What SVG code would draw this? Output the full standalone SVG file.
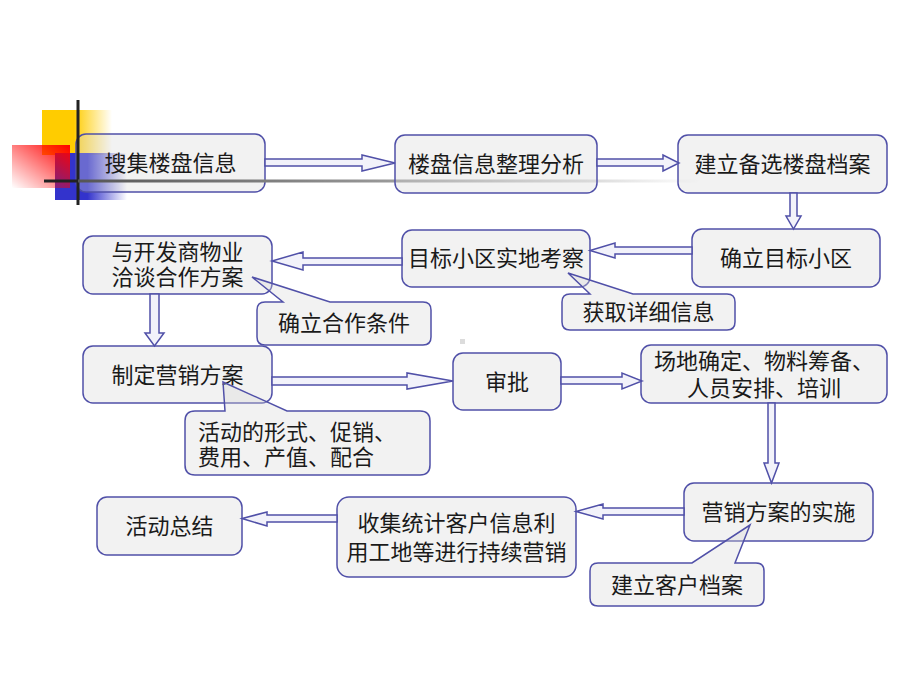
<svg xmlns="http://www.w3.org/2000/svg" width="920" height="690" viewBox="0 0 920 690">
<defs>
<linearGradient id="gY" x1="0" y1="0" x2="1" y2="0"><stop offset="0" stop-color="#ffcc00"/><stop offset="0.45" stop-color="#ffcc00"/><stop offset="1" stop-color="#ffcc00" stop-opacity="0"/></linearGradient>
<linearGradient id="gR" x1="1" y1="0" x2="0" y2="1"><stop offset="0" stop-color="#ff0000"/><stop offset="1" stop-color="#ff0000" stop-opacity="0"/></linearGradient>
<linearGradient id="gB" x1="0" y1="0" x2="1" y2="0"><stop offset="0" stop-color="#3333cc"/><stop offset="0.45" stop-color="#3333cc"/><stop offset="1" stop-color="#3333cc" stop-opacity="0"/></linearGradient>
<linearGradient id="gL" x1="78" y1="0" x2="700" y2="0" gradientUnits="userSpaceOnUse"><stop offset="0" stop-color="#555"/><stop offset="0.5" stop-color="#999"/><stop offset="1" stop-color="#999" stop-opacity="0"/></linearGradient>
</defs>
<style>
.box{fill:#d8d8d8;fill-opacity:0.33;stroke:#5050a8;stroke-width:1.5}
.arr{fill:#f2f2fa;stroke:#5050a8;stroke-width:1.5;stroke-linejoin:miter}
text{font-family:"Liberation Sans","Noto Sans CJK SC",sans-serif;font-size:22px;fill:#1a1a1a}
.c{text-anchor:middle}
</style>
<rect width="920" height="690" fill="#ffffff"/>
<g id="decoration">
<rect x="42" y="110" width="70" height="45" fill="url(#gY)"/>
<rect x="55" y="153" width="72" height="47" fill="url(#gB)"/>
<rect x="12" y="145" width="58" height="43" fill="url(#gR)"/>
<rect x="460" y="339" width="5" height="5" fill="#dcdcdc"/>
</g>
<g id="n1"><rect class="box" x="76" y="134" width="189" height="58" rx="10"/><text class="c" x="170.5" y="171">搜集楼盘信息</text></g>
<g id="decoration-lines">
<line x1="78" y1="100" x2="78" y2="205" stroke="#222" stroke-width="3"/>
<line x1="44" y1="181" x2="78" y2="181" stroke="#222" stroke-width="3"/>
<line x1="78" y1="181" x2="700" y2="181" stroke="url(#gL)" stroke-width="3"/>
</g>
<g id="n2"><rect class="box" x="395" y="135" width="202" height="58" rx="10"/><text class="c" x="496" y="172">楼盘信息整理分析</text></g>
<g id="n3"><rect class="box" x="678" y="135" width="209" height="58" rx="10"/><text class="c" x="782.5" y="172">建立备选楼盘档案</text></g>
<g id="n4"><rect class="box" x="692" y="229" width="188" height="58" rx="10"/><text class="c" x="786" y="266">确立目标小区</text></g>
<g id="n5"><rect class="box" x="402" y="230" width="188" height="57" rx="10"/><text class="c" x="496" y="266">目标小区实地考察</text></g>
<g id="n7"><rect class="box" x="83" y="236" width="189" height="58" rx="10"/><text class="c" x="177.5" y="260">与开发商物业</text><text class="c" x="177.5" y="285">洽谈合作方案</text></g>
<g id="n9"><rect class="box" x="83" y="346" width="189" height="57" rx="10"/><text class="c" x="177.5" y="382.5">制定营销方案</text></g>
<g id="n11"><rect class="box" x="453" y="353" width="108" height="57" rx="10"/><text class="c" x="507" y="389.5">审批</text></g>
<g id="n12"><rect class="box" x="641" y="345" width="246" height="58" rx="10"/><text class="c" x="764" y="369">场地确定、物料筹备、</text><text class="c" x="764" y="396">人员安排、培训</text></g>
<g id="n13"><rect class="box" x="684" y="483" width="189" height="58" rx="10"/><text class="c" x="778.5" y="520">营销方案的实施</text></g>
<g id="n15"><rect class="box" x="337" y="497" width="239" height="80" rx="12"/><text class="c" x="456.5" y="531">收集统计客户信息利</text><text class="c" x="456.5" y="560">用工地等进行持续营销</text></g>
<g id="n16"><rect class="box" x="97" y="497" width="145" height="58" rx="10"/><text class="c" x="169.5" y="534">活动总结</text></g>
<g id="n6"><path class="box" d="M570,294 H590 L568,273 L633,294 H727 Q735,294 735,302 V322 Q735,330 727,330 H570 Q562,330 562,322 V302 Q562,294 570,294 Z"/><text class="c" x="648.5" y="320">获取详细信息</text></g>
<g id="n8"><path class="box" d="M265,302 H283 L252,277 L330,302 H423 Q431,302 431,310 V337 Q431,345 423,345 H265 Q257,345 257,337 V310 Q257,302 265,302 Z"/><text class="c" x="344" y="331">确立合作条件</text></g>
<g id="n10"><path class="box" d="M195,411 H225 L223,382 L287,411 H420 Q430,411 430,421 V465 Q430,475 420,475 H195 Q185,475 185,465 V421 Q185,411 195,411 Z"/><text x="198" y="440">活动的形式、促销、</text><text x="198" y="465">费用、产值、配合</text></g>
<g id="n14"><path class="box" d="M598,563 H692 L750,525 L735,563 H756 Q764,563 764,571 V598 Q764,606 756,606 H598 Q590,606 590,598 V571 Q590,563 598,563 Z"/><text class="c" x="677" y="592.5">建立客户档案</text></g>
<g id="connectors">
<polygon class="arr" points="265,159 362,159 362,155 395,163 362,171 362,166 265,166"/>
<polygon class="arr" points="597,159 663,159 663,155 679,163 663,171 663,166 597,166"/>
<polygon class="arr" points="790,193 797,193 797,216 801,216 793.5,229 786,216 790,216"/>
<polygon class="arr" points="692,247 615,247 615,243 590,250.5 615,258 615,254 692,254"/>
<polygon class="arr" points="402,258 303,258 303,252 272,261 303,270 303,265 402,265"/>
<polygon class="arr" points="150,294 159,294 159,333 164,333 154.5,346 145,333 150,333"/>
<polygon class="arr" points="272,377 407,377 407,373 453,381 407,389 407,385 272,385"/>
<polygon class="arr" points="561,377 622,377 622,373 642,381 622,389 622,384 561,384"/>
<polygon class="arr" points="768,403 775,403 775,463 779,463 771.5,483 764,463 768,463"/>
<polygon class="arr" points="684,508 603,508 603,504 576,511.5 603,519 603,515 684,515"/>
<polygon class="arr" points="337,515 267,515 267,512 242,518.5 267,526 267,522 337,522"/>
</g>
</svg>
